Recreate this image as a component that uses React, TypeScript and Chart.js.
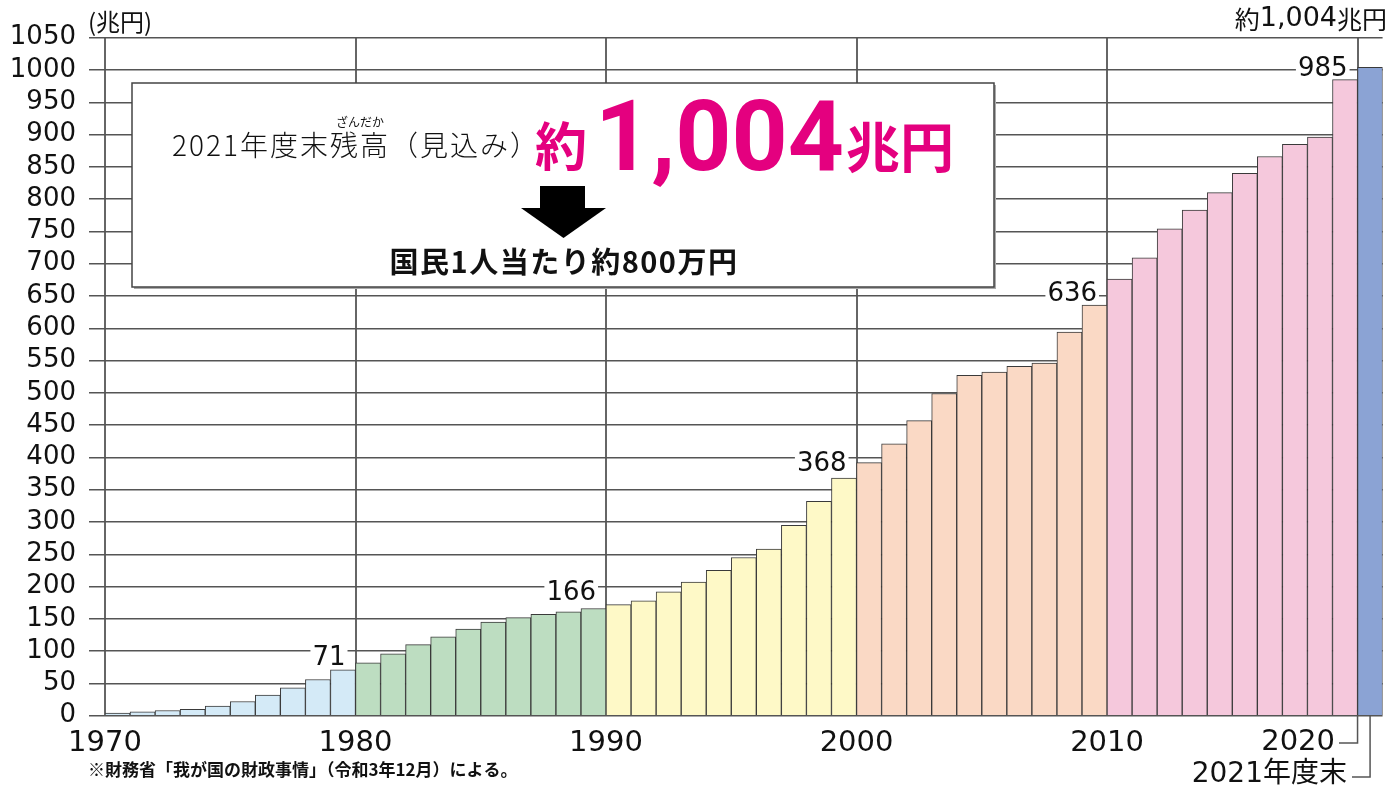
import React, { useEffect, useRef } from 'react';
import { Chart, registerables } from 'chart.js';

Chart.register(...registerables);

// ---- data ----
const years = [
  1971, 1972, 1973, 1974, 1975, 1976, 1977, 1978, 1979, 1980,
  1981, 1982, 1983, 1984, 1985, 1986, 1987, 1988, 1989, 1990,
  1991, 1992, 1993, 1994, 1995, 1996, 1997, 1998, 1999, 2000,
  2001, 2002, 2003, 2004, 2005, 2006, 2007, 2008, 2009, 2010,
  2011, 2012, 2013, 2014, 2015, 2016, 2017, 2018, 2019, 2020,
  2021,
];
const debt = [
  4, 6, 8, 10, 15, 22, 32, 43, 56, 71,
  82, 96, 110, 122, 134, 145, 152, 157, 161, 166,
  172, 178, 192, 207, 225, 245, 258, 295, 332, 368,
  392, 421, 457, 499, 527, 532, 541, 546, 594, 636,
  676, 709, 754, 783, 810, 840, 866, 885, 896, 985,
  1004,
];
const periodColors = ['#D4EAF7', '#BDDDC1', '#FEF9C7', '#FAD9C5', '#F5C8DC', '#8BA3D4'];
const xTickYears = [1970, 1980, 1990, 2000, 2010, 2020];
const labeledYears = [1980, 1990, 2000, 2010, 2020];
const yMax = 1050;
const yStep = 50;

const unitLabel = '(兆円)';
const boxLine1 = '2021年度末残高（見込み）';
const boxRubyBase = '2021年度末';
const boxRubyTarget = '残高';
const boxRuby = 'ざんだか';
const boxHighlight = ['約', '1,004', '兆円'];
const boxLine2 = '国民1人当たり約800万円';
const lastYearLabel = '2021年度末';
const footnote = '※財務省「我が国の財政事情」（令和3年12月）による。';

const CJK = '"Noto Sans CJK JP", sans-serif';
const NUM = '"DejaVu Sans", "Noto Sans CJK JP", sans-serif';
const MAGENTA = '#E4007F';

const colorFor = (yr: number) => periodColors[Math.min(5, Math.floor((yr - 1971) / 10))];

const annotationPlugin = {
  id: 'annotations',
  afterDatasetsDraw(chart: any) {
    const ctx: any = chart.ctx;
    const xs = chart.scales.x;
    const ys = chart.scales.y;
    const area = chart.chartArea;
    ctx.save();

    // value labels on gridlines
    ctx.font = `26px ${NUM}`;
    ctx.textBaseline = 'alphabetic';
    ctx.textAlign = 'right';
    const capH = 19;
    labeledYears.forEach((yr) => {
      const idx = years.indexOf(yr);
      const v = debt[idx];
      const gy = Math.ceil(v / yStep) * yStep;
      const px = xs.getPixelForValue(yr);
      const py = ys.getPixelForValue(gy);
      const barTop = ys.getPixelForValue(v);
      const center = Math.min(py + 4, barTop - 4 - capH / 2);
      const w = ctx.measureText(String(v)).width;
      const right = px - 10;
      const rTop = center - capH / 2 - 2;
      const rBot = Math.min(center + capH / 2 + 2, barTop - 1);
      ctx.fillStyle = '#fff';
      ctx.fillRect(right - w - 2, rTop, w + 4, rBot - rTop);
      ctx.fillStyle = '#111';
      ctx.fillText(String(v), right, center + capH / 2);
    });

    // unit label
    ctx.textAlign = 'left';
    ctx.textBaseline = 'middle';
    ctx.font = `24px ${CJK}`;
    ctx.fillStyle = '#111';
    ctx.fillText(unitLabel, 88, 22);

    // top right total
    const lastVal = debt[debt.length - 1];
    const parts = [
      { t: '約', f: `25px ${CJK}` },
      { t: lastVal.toLocaleString('en-US'), f: `27px ${NUM}` },
      { t: '兆円', f: `25px ${CJK}` },
    ];
    let total = 0;
    const ws = parts.map((p) => { ctx.font = p.f; const w = ctx.measureText(p.t).width; total += w; return w; });
    let cx = 1387 - total;
    parts.forEach((p, i) => { ctx.font = p.f; ctx.fillText(p.t, cx, 19); cx += ws[i]; });

    // box
    const bx = 132, by = 83, bw = 862, bh = 204;
    ctx.fillStyle = '#aaa';
    ctx.fillRect(bx + 2, by + 2, bw, bh);
    ctx.fillStyle = '#fff';
    ctx.fillRect(bx, by, bw, bh);
    ctx.strokeStyle = '#444';
    ctx.lineWidth = 1.5;
    ctx.strokeRect(bx, by, bw, bh);

    // box line 1
    ctx.fillStyle = '#111';
    ctx.textBaseline = 'alphabetic';
    ctx.textAlign = 'left';
    ctx.font = `300 28px ${CJK}`;
    ctx.letterSpacing = '2px';
    ctx.fillText(boxLine1, 172, 156);
    const baseW = ctx.measureText(boxRubyBase).width;
    const tgtW = ctx.measureText(boxRubyTarget).width;
    ctx.letterSpacing = '0px';
    ctx.font = `12px ${CJK}`;
    ctx.textAlign = 'center';
    ctx.fillText(boxRuby, 172 + baseW + tgtW / 2, 127);

    // highlight
    ctx.fillStyle = MAGENTA;
    ctx.textAlign = 'left';
    ctx.font = `bold 52px ${CJK}`;
    ctx.fillText(boxHighlight[0], 535, 166);
    ctx.textAlign = 'right';
    ctx.font = `bold 98px Roboto, "Noto Sans", sans-serif`;
    ctx.fillText(boxHighlight[1], 844, 170);
    ctx.textAlign = 'left';
    ctx.font = `bold 54px ${CJK}`;
    ctx.fillText(boxHighlight[2], 846, 168);

    // arrow
    ctx.fillStyle = '#000';
    ctx.fillRect(540, 186, 45, 23);
    ctx.beginPath();
    ctx.moveTo(521, 208);
    ctx.lineTo(606, 208);
    ctx.lineTo(563.5, 238);
    ctx.closePath();
    ctx.fill();

    // box line 2
    ctx.fillStyle = '#111';
    ctx.textAlign = 'center';
    ctx.textBaseline = 'middle';
    ctx.font = `bold 29px ${CJK}`;
    ctx.letterSpacing = '1.5px';
    ctx.fillText(boxLine2, 564, 262);
    ctx.letterSpacing = '0px';

    // 2020 and last-year labels with connectors
    const p2020 = xs.getPixelForValue(2020);
    const pLast = xs.getPixelForValue(years[years.length - 1] - 0.5);
    const bottom = area.bottom;
    ctx.strokeStyle = '#555';
    ctx.lineWidth = 1.5;
    ctx.beginPath();
    ctx.moveTo(1339, 743);
    ctx.lineTo(p2020, 743);
    ctx.lineTo(p2020, bottom);
    ctx.moveTo(1352, 777);
    ctx.lineTo(pLast, 777);
    ctx.lineTo(pLast, bottom);
    ctx.stroke();

    ctx.fillStyle = '#111';
    ctx.textAlign = 'right';
    ctx.textBaseline = 'middle';
    ctx.font = `29px ${NUM}`;
    ctx.fillText('2020', 1335, 742);
    ctx.font = `28px ${NUM}`;
    ctx.fillText(lastYearLabel, 1347, 775);

    // footnote
    ctx.textAlign = 'left';
    ctx.font = `bold 17px ${CJK}`;
    ctx.fillText(footnote, 88, 770);

    ctx.restore();
  },
};

export default function App() {
  const ref = useRef<HTMLCanvasElement | null>(null);

  useEffect(() => {
    if (!ref.current) return;
    const chart = new Chart(ref.current, {
      type: 'bar',
      data: {
        datasets: [
          {
            data: years.map((yr, i) => ({ x: yr - 0.5, y: debt[i] })),
            backgroundColor: years.map(colorFor),
            borderColor: '#3a3a3a',
            borderWidth: 1,
            barPercentage: 1,
            categoryPercentage: 1,
          } as any,
        ],
      },
      options: {
        animation: false,
        responsive: false,
        events: [],
        layout: { padding: { left: 0, right: 16.4, top: 37.7, bottom: 0 } },
        plugins: { legend: { display: false }, tooltip: { enabled: false } },
        scales: {
          x: {
            type: 'linear',
            min: 1970,
            max: 2021,
            offset: false,
            afterBuildTicks: (s: any) => {
              s.ticks = xTickYears.map((v) => ({ value: v }));
            },
            afterFit: (s: any) => {
              s.height = 71.3;
            },
            grid: { offset: false, color: '#666', lineWidth: 2, drawTicks: false },
            border: { display: false },
            ticks: {
              autoSkip: false,
              maxRotation: 0,
              padding: 10,
              color: '#111',
              font: { family: '"DejaVu Sans"', size: 29 },
              callback: (v: any) => (v === 2020 ? '' : String(v)),
            },
          } as any,
          y: {
            min: 0,
            max: yMax,
            afterFit: (s: any) => {
              s.width = 105;
            },
            grid: { color: '#555', lineWidth: 1.5, tickLength: 16 },
            border: { display: false },
            ticks: {
              stepSize: yStep,
              autoSkip: false,
              padding: 13,
              color: '#111',
              font: { family: '"DejaVu Sans"', size: 26 },
              callback: (v: any) => String(v),
            },
          } as any,
        },
      },
      plugins: [annotationPlugin],
    });
    return () => chart.destroy();
  }, []);

  return (
    <div style={{ position: 'fixed', left: 0, top: 0, width: 1399, height: 787, background: '#fff' }}>
      <canvas ref={ref} width={1399} height={787} />
    </div>
  );
}
